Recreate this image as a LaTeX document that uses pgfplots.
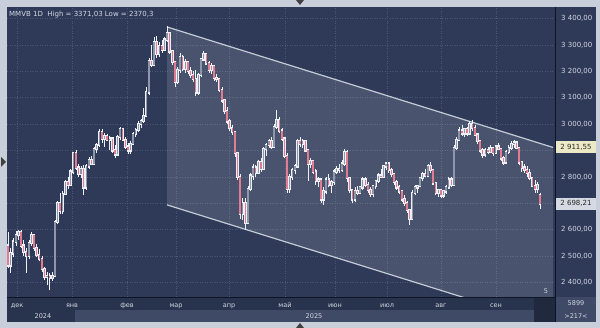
\documentclass[border=0pt]{standalone}
\usepackage{fontspec}
\setmainfont{DejaVu Sans}
\usepackage{pgfplots}
\usepackage{pgfplotstable}
\pgfplotsset{compat=1.18}
\definecolor{framec}{HTML}{C8CFDA}
\definecolor{bg}{HTML}{2E3A58}
\definecolor{gridc}{HTML}{4A5776}
\definecolor{band}{HTML}{28334D}
\definecolor{bandlight}{HTML}{3E4A66}
\definecolor{txt}{HTML}{D3D8E2}
\definecolor{upfill}{HTML}{8E97AA}
\definecolor{dnfill}{HTML}{E07D92}
\definecolor{edge}{HTML}{EEF0F5}
\definecolor{chan}{HTML}{C4CAD6}
\definecolor{tagy}{HTML}{ECE9C6}
\definecolor{tagg}{HTML}{D5D9E1}
\definecolor{divc}{HTML}{0E1524}

\pgfplotstableread{
i o h l c
0 2540 2590 2455 2465
1 2465 2530 2436 2510
2 2510 2570 2495 2555
3 2555 2595 2540 2580
4 2580 2600 2560 2590
5 2590 2598 2530 2540
6 2540 2560 2500 2515
7 2515 2530 2436 2500
8 2500 2560 2490 2550
9 2550 2590 2540 2578
10 2578 2585 2520 2530
11 2530 2545 2495 2505
12 2505 2525 2480 2490
13 2490 2500 2440 2450
14 2450 2460 2410 2420
15 2420 2440 2390 2425
16 2425 2435 2370.3 2418
17 2418 2440 2405 2425
18 2425 2635 2420 2628
19 2628 2710 2620 2700
20 2700 2740 2660 2670
21 2670 2745 2660 2735
22 2735 2790 2730 2780
23 2780 2800 2755 2770
24 2770 2830 2765 2820
25 2820 2895 2810 2890
26 2890 2900 2825 2835
27 2835 2850 2800 2810
28 2810 2840 2795 2830
29 2830 2845 2730 2760
30 2760 2850 2750 2840
31 2840 2875 2830 2865
32 2865 2880 2845 2850
33 2850 2915 2845 2905
34 2905 2930 2890 2920
35 2920 2982 2915 2970
36 2970 2980 2930 2945
37 2945 2965 2915 2955
38 2955 2962 2935 2940
39 2940 2955 2900 2945
40 2945 2950 2890 2900
41 2900 2920 2870 2885
42 2885 2960 2880 2950
43 2950 2990 2940 2980
44 2980 2985 2935 2940
45 2940 2950 2905 2915
46 2915 2930 2885 2900
47 2900 2935 2885 2925
48 2925 2970 2920 2962
49 2962 2985 2950 2978
50 2978 3010 2970 3000
51 3000 3020 2985 3012
52 3012 3060 3005 3030
53 3030 3140 3025 3120
54 3120 3250 3110 3240
55 3240 3300 3215 3225
56 3225 3330 3220 3310
57 3310 3335 3250 3265
58 3265 3310 3255 3295
59 3295 3320 3270 3280
60 3280 3330 3275 3320
61 3320 3371.03 3310 3345
62 3345 3350 3265 3275
63 3275 3280 3225 3235
64 3235 3240 3140 3160
65 3160 3215 3150 3205
66 3205 3270 3195 3255
67 3255 3260 3200 3210
68 3210 3245 3195 3235
69 3235 3240 3190 3200
70 3200 3215 3175 3185
71 3185 3200 3160 3170
72 3170 3205 3105 3120
73 3120 3195 3110 3185
74 3185 3250 3180 3245
75 3245 3275 3240 3265
76 3265 3270 3225 3230
77 3230 3240 3195 3205
78 3205 3230 3190 3220
79 3220 3225 3165 3175
80 3175 3190 3160 3170
81 3170 3175 3120 3130
82 3130 3140 3080 3090
83 3090 3095 3040 3050
84 3050 3065 3000 3010
85 3010 3020 2975 2985
86 2985 2995 2960 2970
87 2970 2975 2875 2890
88 2890 2895 2790 2800
89 2800 2810 2640 2660
90 2660 2720 2637 2700
91 2700 2720 2600 2625
92 2625 2765 2620 2755
93 2755 2815 2745 2805
94 2805 2850 2790 2835
95 2835 2845 2800 2815
96 2815 2865 2810 2855
97 2855 2870 2820 2830
98 2830 2915 2825 2905
99 2905 2930 2880 2920
100 2920 2945 2910 2935
101 2935 2950 2905 2915
102 2915 3000 2910 2990
103 2990 3053 2980 3015
104 3015 3025 2965 2975
105 2975 2985 2935 2945
106 2945 2950 2870 2880
107 2880 2890 2740 2755
108 2755 2810 2740 2800
109 2800 2835 2790 2825
110 2825 2850 2810 2840
111 2840 2945 2835 2935
112 2935 2950 2915 2925
113 2925 2945 2910 2935
114 2935 2940 2895 2900
115 2900 2905 2785 2850
116 2850 2870 2835 2860
117 2860 2865 2810 2820
118 2820 2830 2770 2785
119 2785 2800 2760 2790
120 2790 2795 2700 2715
121 2715 2760 2695 2745
122 2745 2800 2735 2790
123 2790 2810 2760 2770
124 2770 2790 2740 2780
125 2780 2830 2770 2820
126 2820 2840 2810 2830
127 2830 2850 2815 2825
128 2825 2865 2820 2850
129 2850 2905 2840 2895
130 2895 2900 2780 2795
131 2795 2800 2740 2750
132 2750 2755 2700 2715
133 2715 2760 2705 2745
134 2745 2765 2730 2740
135 2740 2765 2735 2760
136 2760 2800 2750 2790
137 2790 2800 2760 2770
138 2770 2780 2740 2750
139 2750 2760 2725 2735
140 2735 2770 2725 2765
141 2765 2790 2755 2785
142 2785 2815 2775 2805
143 2805 2830 2795 2800
144 2800 2845 2795 2840
145 2840 2858 2825 2850
146 2850 2855 2815 2825
147 2825 2835 2800 2810
148 2810 2815 2770 2780
149 2780 2790 2750 2760
150 2760 2770 2735 2745
151 2745 2750 2705 2715
152 2715 2730 2690 2700
153 2700 2710 2665 2675
154 2675 2680 2618 2640
155 2640 2750 2635 2740
156 2740 2770 2730 2760
157 2760 2770 2740 2765
158 2765 2800 2760 2795
159 2795 2820 2785 2810
160 2810 2830 2800 2805
161 2805 2850 2800 2840
162 2840 2855 2815 2825
163 2825 2830 2770 2775
164 2775 2780 2730 2740
165 2740 2755 2725 2750
166 2750 2755 2720 2730
167 2730 2750 2720 2745
168 2745 2770 2735 2760
169 2760 2800 2755 2790
170 2790 2800 2760 2770
171 2770 2920 2765 2910
172 2910 2950 2900 2940
173 2940 2990 2935 2975
174 2975 2995 2955 2965
175 2965 2985 2950 2980
176 2980 2990 2955 2965
177 2965 3010 2960 3000
178 3000 3015 2975 2985
179 2985 2995 2955 2960
180 2960 2965 2925 2935
181 2935 2940 2890 2900
182 2900 2910 2870 2885
183 2885 2910 2875 2900
184 2900 2915 2885 2895
185 2895 2920 2890 2910
186 2910 2915 2880 2890
187 2890 2920 2885 2915
188 2915 2930 2900 2905
189 2905 2910 2860 2870
190 2870 2880 2845 2855
191 2855 2900 2850 2895
192 2895 2920 2885 2910
193 2910 2935 2900 2925
194 2925 2940 2910 2930
195 2930 2935 2905 2910
196 2910 2915 2845 2855
197 2855 2860 2820 2835
198 2835 2850 2815 2825
199 2825 2840 2800 2815
200 2815 2830 2790 2795
201 2795 2800 2760 2765
202 2765 2790 2740 2755
203 2755 2780 2740 2770
204 2730 2740 2680 2698.21
}\candles

\pgfplotsset{
  candlebar/.style={draw=none, mark=none, forget plot,
    error bars/.cd, y dir=plus, y explicit, error mark=none,
    error bar style={solid, #1}},
}

\begin{document}
\begin{tikzpicture}[x=1pt,y=1pt]
\useasboundingbox (0,0) rectangle (600,328);
% frame and panels
\fill[framec] (0,0) rectangle (600,328);
\fill[bg] (7,6) rectangle (596,321);
\fill[band] (7,6) rectangle (555,31);
\fill[bandlight] (75,6) rectangle (534,18);
\fill[band!80!black] (534,6) rectangle (555,31);
\fill[bandlight] (555,6) rectangle (596,31);
% frame arrows
\fill[black!75] (296,328) -- (304,328) -- (300,323) -- cycle;
\fill[black!75] (296,0) -- (304,0) -- (300,5) -- cycle;
\fill[black!75] (1,171) -- (1,161) -- (6,166) -- cycle;

\begin{axis}[
  at={(7pt,31pt)}, anchor=south west,
  width=546pt, height=290pt, scale only axis,
  xmin=-0.383, xmax=208.97, ymin=2345, ymax=3443.6,
  axis line style={draw=none},
  axis background/.style={fill=bg},
  major tick length=0pt,
  ytick={2400,2500,2600,2700,2800,2900,3000,3100,3200,3300,3400},
  yticklabels={{2 400,00},{2 500,00},{2 600,00},{},{2 800,00},{},{3 000,00},{3 100,00},{3 200,00},{3 300,00},{3 400,00}},
  yticklabel pos=right,
  yticklabel style={anchor=west, inner sep=0pt, xshift=8pt, font=\fontsize{7}{8}\selectfont, text=txt},
  xtick={3.45,24.54,45.63,64.42,84.74,106.21,125.38,145.32,166.03,187.12},
  xticklabels={дек,янв,фев,мар,апр,май,июн,июл,авг,сен},
  xticklabel style={anchor=base, inner sep=0pt, yshift=-11pt, font=\fontsize{6.5}{7}\selectfont, text=txt},
  grid=major,
  major grid style={gridc, dash pattern=on 1pt off 1.5pt, line width=0.5pt},
  clip mode=individual,
]
% channel
\addplot[fill=white, fill opacity=0.13, draw=none, forget plot]
  coordinates {(60.97,3368) (208.97,2911.55) (208.97,2237.55) (60.97,2694)} -- cycle;
\addplot[chan, line width=1.2pt, forget plot] coordinates {(60.97,3368) (208.97,2911.55)};
\addplot[chan, line width=1.2pt, forget plot] coordinates {(60.97,2694) (208.97,2237.55)};
% wicks
\addplot[candlebar={draw=edge, line width=0.6pt}]
  table[x=i, y=l, y error plus expr={\thisrow{h}-\thisrow{l}}] {\candles};
% body outlines
\addplot[candlebar={draw=edge, line width=2.4pt, line cap=rect}]
  table[x=i, y expr={min(\thisrow{o},\thisrow{c})}, y error plus expr={abs(\thisrow{c}-\thisrow{o})}] {\candles};
% up bodies
\addplot[candlebar={draw=upfill, line width=1.4pt}]
  table[x expr={\thisrow{c}>=\thisrow{o} ? \thisrow{i} : nan}, y expr={\thisrow{o}}, y error plus expr={\thisrow{c}-\thisrow{o}}] {\candles};
% down bodies
\addplot[candlebar={draw=dnfill, line width=1.4pt}]
  table[x expr={\thisrow{c}<\thisrow{o} ? \thisrow{i} : nan}, y expr={\thisrow{c}}, y error plus expr={\thisrow{o}-\thisrow{c}}] {\candles};
\end{axis}

% separators
\draw[divc, line width=0.8pt] (7,31) -- (555,31);
\draw[divc, line width=0.9pt] (555,6) -- (555,321);
% title
\node[anchor=base west, inner sep=0pt, text=txt, font=\fontsize{7}{8}\selectfont] at (9,311.5) {MMVB 1D\ \ High = 3371,03 Low = 2370,3};
% year labels and status
\node[inner sep=0pt, text=txt, font=\fontsize{6.5}{7}\selectfont] at (43,12) {2024};
\node[inner sep=0pt, text=txt, font=\fontsize{6.5}{7}\selectfont] at (314,12) {2025};
\node[inner sep=0pt, text=txt, font=\fontsize{6.5}{7}\selectfont] at (576,25) {5899};
\node[inner sep=0pt, text=txt, font=\fontsize{6.5}{7}\selectfont] at (576,12) {>217<};
\node[inner sep=0pt, text=txt, font=\fontsize{6.5}{7}\selectfont] at (546,37) {5};
% price tags
\fill[tagy] (556,174.5) rectangle (596,186.5);
\node[inner sep=0pt, text=black!85, font=\fontsize{7}{8}\selectfont] at (576,180.5) {2 911,55};
\fill[tagg] (556,118.2) rectangle (596,130.2);
\node[inner sep=0pt, text=black!85, font=\fontsize{7}{8}\selectfont] at (576,124.2) {2 698,21};
\end{tikzpicture}
\end{document}
